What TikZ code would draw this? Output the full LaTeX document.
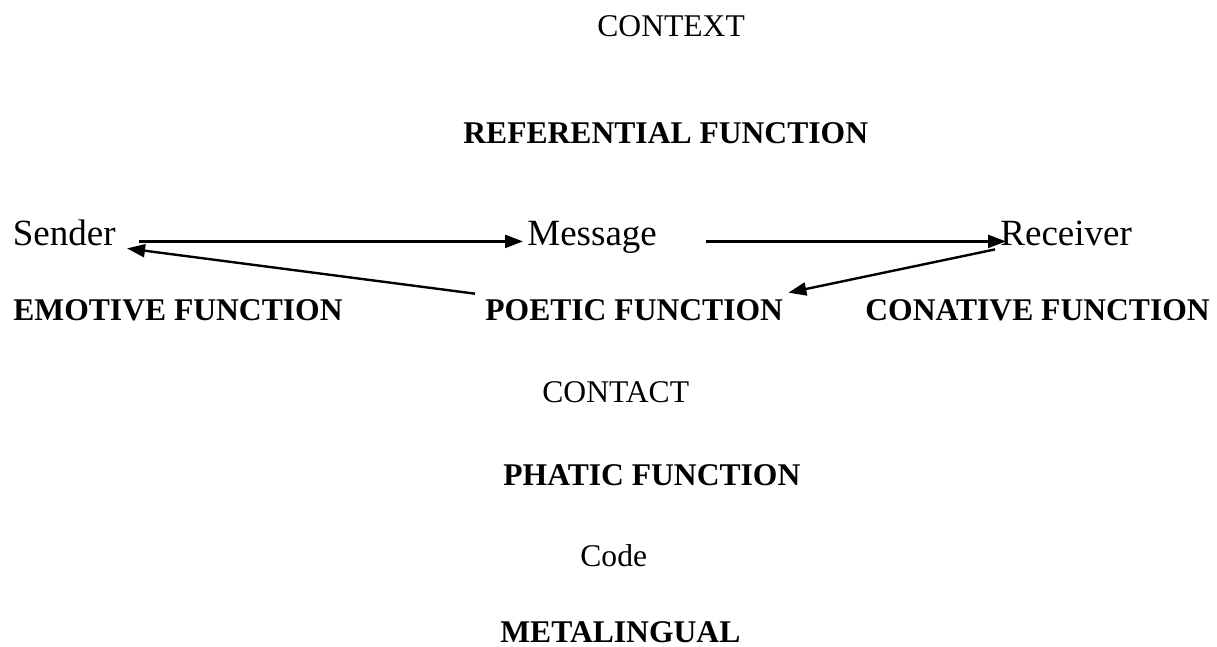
\documentclass[tikz,border=0pt]{standalone}
\usepackage{fontspec}
\setmainfont{Liberation Serif}
\usepackage{tikz}
\usetikzlibrary{arrows.meta, positioning, calc}
\tikzset{
	plain/.style   ={inner sep=0pt, anchor=base west, font=\fontsize{15.8}{19}\selectfont},
	func/.style    ={plain, font=\fontsize{15.8}{19}\selectfont\bfseries},
	party/.style   ={inner sep=0pt, anchor=base west, font=\fontsize{18.5}{22}\selectfont},
	flowarrow/.style={-{Triangle[length=9pt, width=6.5pt]}, line width=1.2pt},
}
\begin{document}
\begin{tikzpicture}[x=0.5pt, y=0.5pt]
	\useasboundingbox (0,0) rectangle (1217,-647);
	% top
	\node[plain] (context) at (597,-37) {CONTEXT};
	\node[func] (referential) at (463,-144) {REFERENTIAL FUNCTION};
	% parties of the exchange
	\node[party] (sender) at (12.5,-246) {Sender};
	\node[party] (message) at (527,-246) {Message};
	\node[party] (receiver) at (1000,-246) {Receiver};
	% functions
	\node[func] (emotive) at (13,-321) {EMOTIVE FUNCTION};
	\node[func] (poetic) at (485,-321) {POETIC FUNCTION};
	\node[func] (conative) at (865,-321) {CONATIVE FUNCTION};
	\node[plain] (contact) at (542,-402) {CONTACT};
	\node[func] (phatic) at (503,-485) {PHATIC FUNCTION};
	\node[plain] (code) at (580,-566) {Code};
	\node[func] (metalingual) at (500,-642) {METALINGUAL};
	% arrows
	\draw[flowarrow] ([xshift=11.5pt]sender.mid east) -- ([xshift=-2pt]message.mid west);
	\draw[flowarrow] ([xshift=24.5pt]message.mid east) -- ([xshift=3pt]receiver.mid west);
	\draw[flowarrow] ([xshift=-5pt, yshift=3pt]poetic.north west) -- ([xshift=5.5pt, yshift=-3.5pt]sender.mid east);
	\draw[flowarrow] ([xshift=-2.5pt, yshift=-4pt]receiver.mid west) -- ([xshift=2.5pt, yshift=3.5pt]poetic.north east);
\end{tikzpicture}
\end{document}
